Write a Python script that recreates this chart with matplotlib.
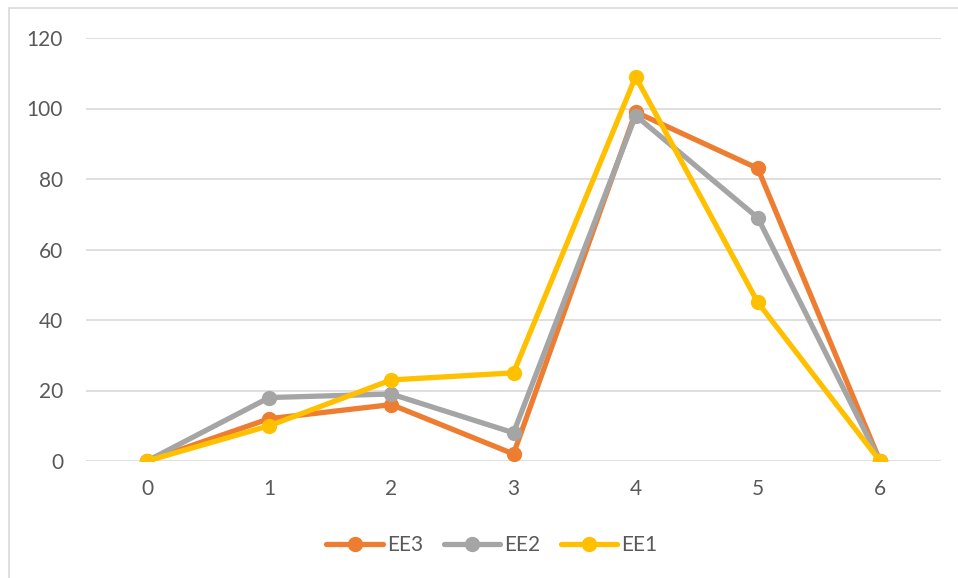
import matplotlib
matplotlib.use("Agg")
import matplotlib.pyplot as plt
from matplotlib.patches import Rectangle

categories = [0, 1, 2, 3, 4, 5, 6]
ee3 = [0, 12, 16, 2, 99, 83, 0]
ee2 = [0, 18, 19, 8, 98, 69, 0]
ee1 = [0, 10, 23, 25, 109, 45, 0]
y_ticks = [0, 20, 40, 60, 80, 100, 120]

plt.rcParams['font.family'] = ['Lato', 'DejaVu Sans']

fig = plt.figure(figsize=(9.58, 5.78), dpi=100)
fig.patch.set_facecolor('white')

# light chart-area border
fig.patches.append(Rectangle((9 / 958, -0.1), 1.2, 1 - 8 / 578 + 0.1,
                             transform=fig.transFigure, fill=False,
                             edgecolor='#d9d9d9', linewidth=1.2, zorder=0))

ax = fig.add_axes([86 / 958, 117 / 578, (941 - 86) / 958, (540 - 117) / 578])

series = [("EE3", ee3, "#ED7D31"), ("EE2", ee2, "#A5A5A5"), ("EE1", ee1, "#FFC000")]
xs = list(range(len(categories)))
for i, (name, vals, col) in enumerate(series):
    ax.plot(xs, vals, color=col, linewidth=3.8, marker='o', markersize=10,
            label=name, solid_capstyle='round', solid_joinstyle='round', zorder=3 + i)

ax.set_xlim(-0.5, len(categories) - 0.5)
ax.set_ylim(0, 120)
ax.set_yticks(y_ticks)
ax.set_xticks(xs)
ax.set_xticklabels([str(c) for c in categories])
ax.grid(axis='y', color='#d9d9d9', linewidth=1.2)
ax.set_axisbelow(True)
for s in ax.spines.values():
    s.set_visible(False)
ax.tick_params(length=0, labelsize=15, labelcolor='#595959')
ax.tick_params(axis='y', pad=16.5)
ax.tick_params(axis='x', pad=13)
ax.patch.set_alpha(0)

leg = fig.legend(loc='center', bbox_to_anchor=(0.5136, 0.057), ncol=3, frameon=False,
                 fontsize=15, handlelength=2.7, handletextpad=0.2, columnspacing=1.0,
                 labelcolor='#595959')

fig.savefig("out.png", dpi=100, facecolor='white')
